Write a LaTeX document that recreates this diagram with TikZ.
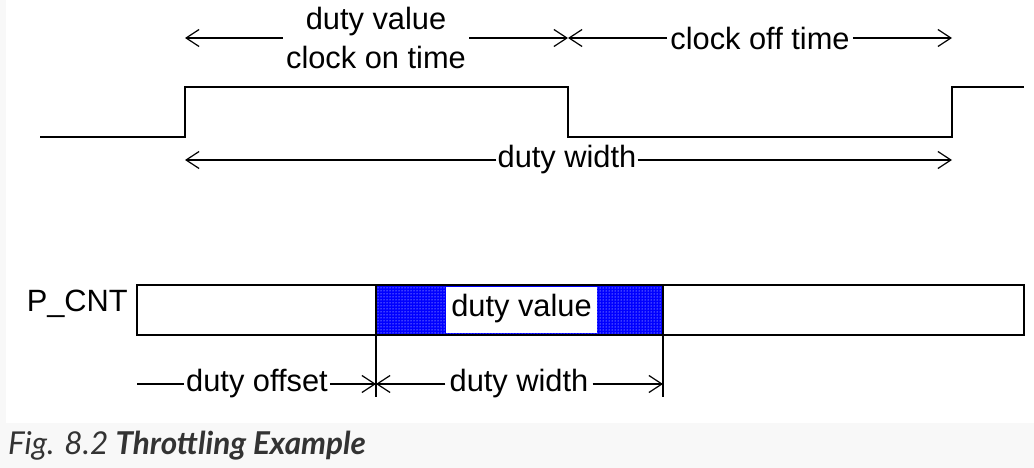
\documentclass[tikz,border=0pt]{standalone}
\usepackage{fontspec}
\setmainfont{Liberation Sans}
\newfontfamily\capfont{Lato}
\usepackage{xcolor}
\usetikzlibrary{arrows.meta,patterns}
\definecolor{capbg}{HTML}{F8F8F8}
\definecolor{captext}{HTML}{333333}
\tikzset{
  wave/.style={line width=1.5pt},
  dim/.style={line width=1.2pt},
  dimtip/.style={dim,-{Straight Barb[length=13pt,width=17pt,line width=1.2pt]}},
  lbl/.style={font=\fontsize{30.8}{39}\selectfont,inner sep=3pt,align=center},
}

\begin{document}
\begin{tikzpicture}[x=1pt,y=-1pt]
            \useasboundingbox (0,0) rectangle (1034,468);
            \fill[capbg] (0,0) rectangle (1034,468);
            \fill[white] (6,0) rectangle (1034,423);

            \draw[wave] (40,137) -- (185,137) -- (185,87) -- (568,87) -- (568,137) -- (952,137) -- (952,87) -- (1024,87);

            \coordinate (on0) at (185,38);
            \coordinate (on1) at (568,38);
            \coordinate (off1) at (952,38);
            \node[lbl] (ontime) at (376,38) {duty value\\clock on time};
            \node[lbl] (offtime) at (760,38) {clock off time};
            \draw[dimtip] (ontime.west |- on0) -- (on0);
            \draw[dimtip] (ontime.east |- on1) -- (on1);
            \draw[dimtip] (offtime.west) -- (on1);
            \draw[dimtip] (offtime.east) -- (off1);

            \coordinate (w0) at (185,160);
            \coordinate (w1) at (952,160);
            \node[lbl,inner sep=1pt] (width) at (567,160) {duty width};
            \draw[dimtip] (width.west) -- (w0);
            \draw[dimtip] (width.east) -- (w1);

            \fill[blue] (376,285) rectangle (663,335);
            \fill[pattern=dots,pattern color=white] (376,285) rectangle (663,335);
            \fill[white] (446,287) rectangle (597,333);
            \node[lbl] (value) at (521.5,309) {duty value};
            \draw[wave] (137,285) rectangle (1024,335);
            \draw[wave] (376,285) -- (376,335) (663,285) -- (663,335);
            \node[lbl,anchor=east] (pcnt) at (131,304) {P\_CNT};

            \coordinate (s0) at (137,384);
            \coordinate (s1) at (376,384);
            \coordinate (s2) at (663,384);
            \draw[dim] (376,335) -- (376,397);
            \draw[dim] (663,335) -- (663,397);
            \node[lbl,inner sep=2pt] (offset) at (257,384) {duty offset};
            \node[lbl,inner sep=4pt] (dwidth) at (519,384) {duty width};
            \draw[dim] (offset.west) -- (s0);
            \draw[dimtip] (offset.east) -- (s1);
            \draw[dimtip] (dwidth.west) -- (s1);
            \draw[dimtip] (dwidth.east) -- (s2);

            \node[anchor=base west,inner sep=0pt,text=captext,font=\capfont\fontsize{31.5}{36}\selectfont\itshape] (caption) at (8,454) {Fig. 8.2 \textbf{Throttling Example}};
\end{tikzpicture}
\end{document}
